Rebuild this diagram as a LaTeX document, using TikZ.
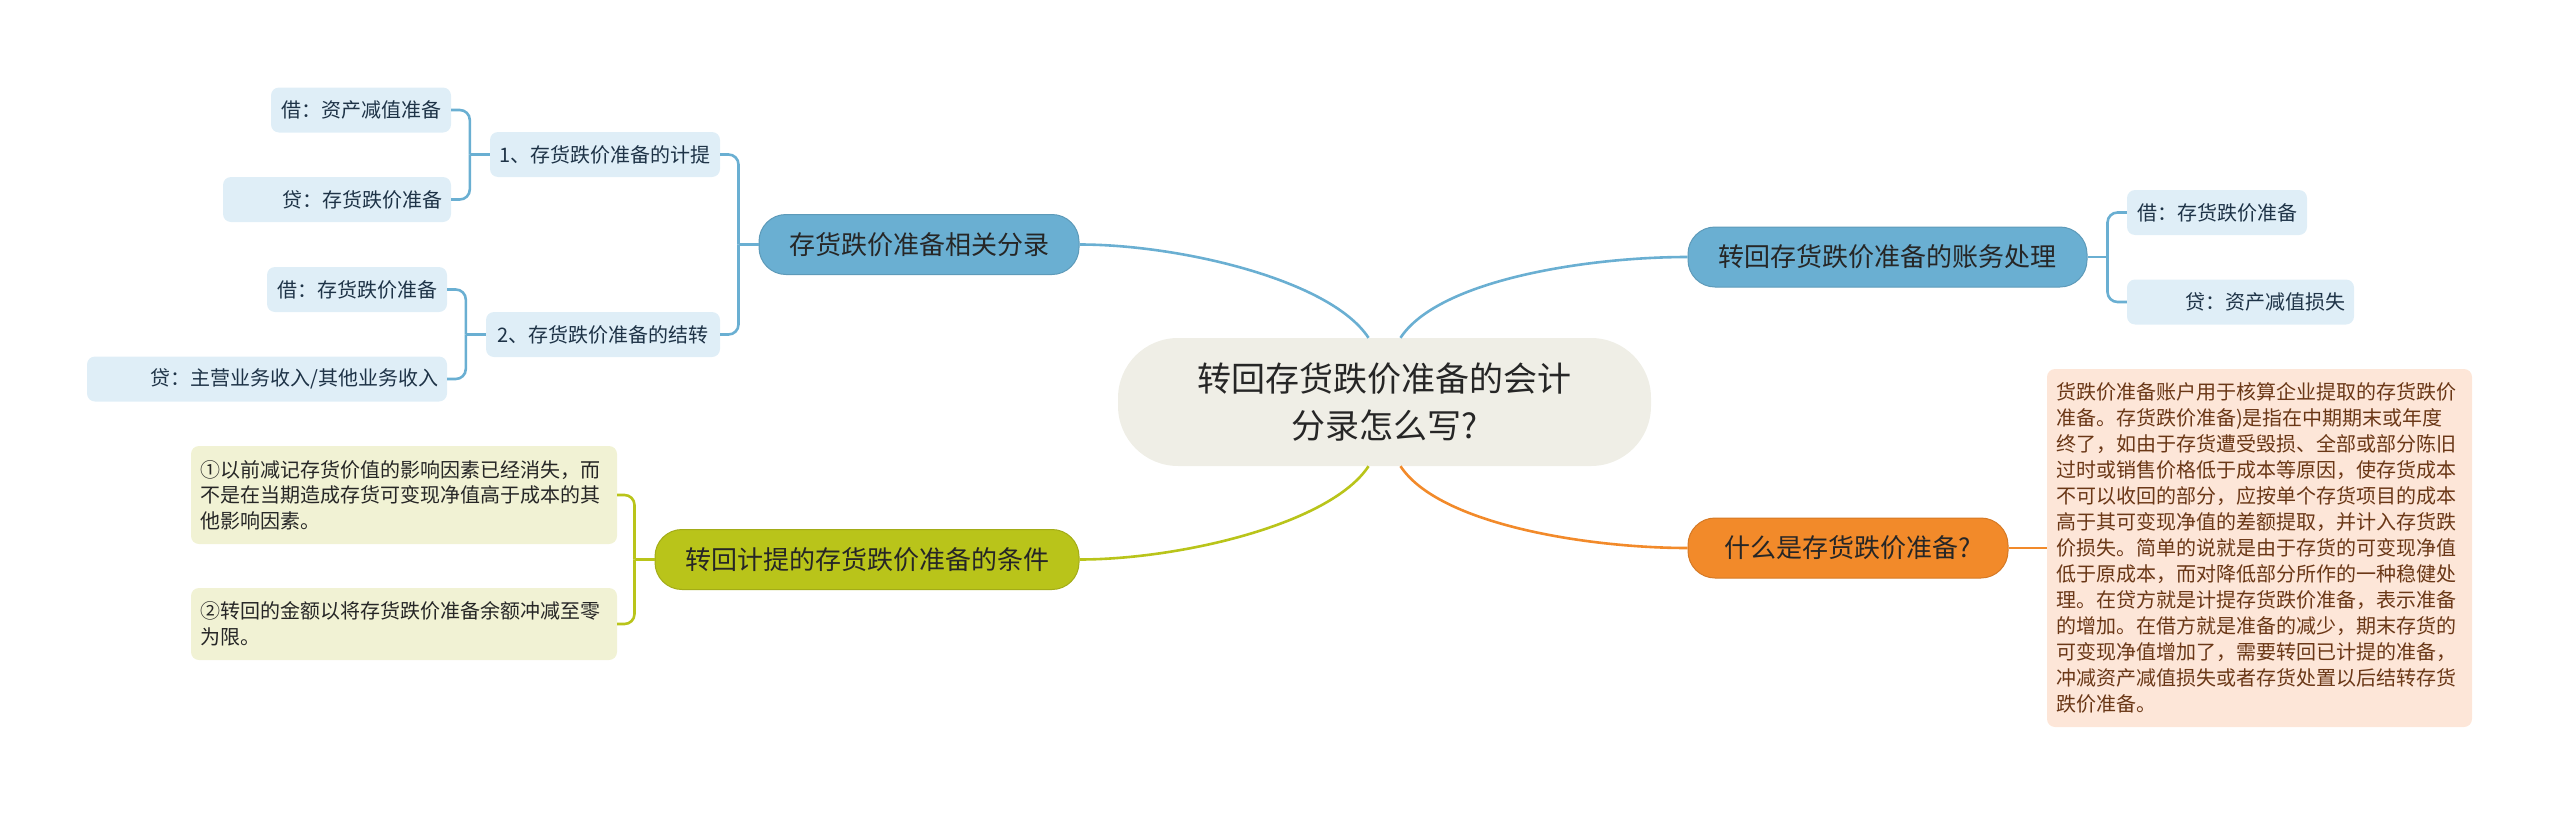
\documentclass[tikz,border=0pt]{standalone}
\usepackage{fontspec}
\setmainfont{Noto Sans CJK SC}
\usepackage{tikz}
\usepackage{xcolor}
\usetikzlibrary{positioning, calc}

\definecolor{rootfill}{HTML}{EFEEE6}
\definecolor{bluetopic}{HTML}{6AAFD2}
\definecolor{olivetopic}{HTML}{B9C41A}
\definecolor{orangetopic}{HTML}{F28A2A}
\definecolor{blueleaf}{HTML}{DFEEF7}
\definecolor{oliveleaf}{HTML}{F1F2D4}
\definecolor{orangeleaf}{HTML}{FDE6D8}
\definecolor{bluetext}{HTML}{1E3347}
\definecolor{browntext}{HTML}{6A3716}

\tikzset{
  root/.style={fill=rootfill, rounded corners=60pt, minimum width=533pt, minimum height=128pt,
    align=center, text=black!85, font=\fontsize{34}{47}\selectfont},
  topic/.style={fill=#1, draw=#1!88!black, line width=1pt, rounded corners=27pt,
    minimum height=60pt, inner xsep=10pt, text=black!85, font=\fontsize{26}{30}\selectfont},
  leaf/.style={fill=#1, rounded corners=8pt, minimum height=45pt, inner xsep=9pt, inner ysep=0pt,
    font=\fontsize{20}{25.6}\selectfont},
  link/.style={draw=#1, line width=2.6pt},
}

\begin{document}
\begin{tikzpicture}[x=1pt, y=-1pt]
\useasboundingbox (0,0) rectangle (2560,814);

% Center
\node[root] (ctr) at (1384.5,402) {转回存货跌价准备的会计\\分录怎么写?};

% Main topics
\node[topic=bluetopic, minimum width=320pt] (entry) at (919,244.5) {存货跌价准备相关分录};
\node[topic=bluetopic, minimum width=399pt] (acct) at (1887.5,257) {转回存货跌价准备的账务处理};
\node[topic=olivetopic, minimum width=424pt] (cond) at (867,559.5) {转回计提的存货跌价准备的条件};
\node[topic=orangetopic, minimum width=320pt] (what) at (1848,548) {什么是存货跌价准备?};

% Blue branch, left
\node[leaf=blueleaf, text=bluetext, minimum width=230pt] (accrue) at (605,154.5) {1、存货跌价准备的计提};
\node[leaf=blueleaf, text=bluetext, minimum width=234pt] (carry) at (603,334.5) {2、存货跌价准备的结转};
\node[leaf=blueleaf, text=bluetext, minimum width=180pt] (accdr) at (361,110) {借：资产减值准备};
\node[leaf=blueleaf, text=bluetext, text width=210pt, align=right] (acccr) at (337,199.5) {贷：存货跌价准备};
\node[leaf=blueleaf, text=bluetext, minimum width=180pt] (cardr) at (357,289.5) {借：存货跌价准备};
\node[leaf=blueleaf, text=bluetext, text width=342pt, align=right] (carcr) at (267,379) {贷：主营业务收入/其他业务收入};

% Blue branch, right
\node[leaf=blueleaf, text=bluetext, minimum width=180pt] (revdr) at (2217,212.5) {借：存货跌价准备};
\node[leaf=blueleaf, text=bluetext, text width=209pt, align=right] (revcr) at (2240.5,302) {贷：资产减值损失};

% Olive branch
\node[leaf=oliveleaf, text=black!85, text width=408pt, align=left, minimum height=98pt] (condA) at (404,495)
  {①以前减记存货价值的影响因素已经消失，而\\不是在当期造成存货可变现净值高于成本的其\\他影响因素。};
\node[leaf=oliveleaf, text=black!85, text width=408pt, align=left, minimum height=72pt] (condB) at (404,624)
  {②转回的金额以将存货跌价准备余额冲减至零\\为限。};

% Orange branch
\node[leaf=orangeleaf, text=browntext, text width=407pt, align=left, minimum height=358pt,
  font=\fontsize{20}{26}\selectfont] (defn) at (2259.5,548)
  {货跌价准备账户用于核算企业提取的存货跌价\\准备。存货跌价准备)是指在中期期末或年度\\终了，如由于存货遭受毁损、全部或部分陈旧\\过时或销售价格低于成本等原因，使存货成本\\不可以收回的部分，应按单个存货项目的成本\\高于其可变现净值的差额提取，并计入存货跌\\价损失。简单的说就是由于存货的可变现净值\\低于原成本，而对降低部分所作的一种稳健处\\理。在贷方就是计提存货跌价准备，表示准备\\的增加。在借方就是准备的减少，期末存货的\\可变现净值增加了，需要转回已计提的准备，\\冲减资产减值损失或者存货处置以后结转存货\\跌价准备。};

% Curves from center
\draw[link=bluetopic] (ctr.104) .. controls +(-38,-58) and +(100,0) .. (entry.east);
\draw[link=bluetopic] (ctr.76) .. controls +(38,-58) and +(-100,0) .. (acct.west);
\draw[link=olivetopic] (ctr.256) .. controls +(-38,58) and +(100,0) .. (cond.east);
\draw[link=orangetopic] (ctr.284) .. controls +(38,58) and +(-100,0) .. (what.west);

% Brackets
\draw[link=bluetopic] (entry.west) -- ++(-20,0) coordinate (jEntry);
\draw[link=bluetopic, rounded corners=10pt] (accrue.east) -| (jEntry);
\draw[link=bluetopic, rounded corners=10pt] (carry.east) -| (jEntry);

\draw[link=bluetopic] (accrue.west) -- ++(-20,0) coordinate (jAccrue);
\draw[link=bluetopic, rounded corners=10pt] (accdr.east) -| (jAccrue);
\draw[link=bluetopic, rounded corners=10pt] (acccr.east) -| (jAccrue);

\draw[link=bluetopic] (carry.west) -- ++(-20,0) coordinate (jCarry);
\draw[link=bluetopic, rounded corners=10pt] (cardr.east) -| (jCarry);
\draw[link=bluetopic, rounded corners=10pt] (carcr.east) -| (jCarry);

\draw[link=bluetopic] (acct.east) -- ++(20,0) coordinate (jAcct);
\draw[link=bluetopic, rounded corners=10pt] (revdr.west) -| (jAcct);
\draw[link=bluetopic, rounded corners=10pt] (revcr.west) -| (jAcct);

\draw[link=olivetopic] (cond.west) -- ++(-20,0) coordinate (jCond);
\draw[link=olivetopic, rounded corners=10pt] (condA.east) -| (jCond);
\draw[link=olivetopic, rounded corners=10pt] (condB.east) -| (jCond);

\draw[link=orangetopic] (what.east) -- (defn.west);
\end{tikzpicture}
\end{document}
